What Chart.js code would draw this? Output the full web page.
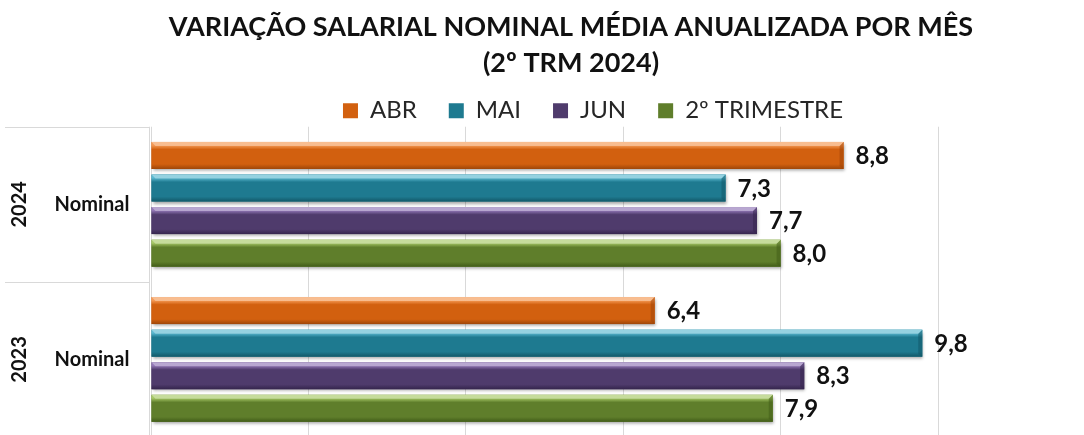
<!DOCTYPE html>
<html>
<head>
<meta charset="utf-8">
<script src="https://cdn.jsdelivr.net/npm/chart.js@4.4.1/dist/chart.umd.min.js"></script>
<style>
  html, body { margin: 0; padding: 0; background: #ffffff; overflow: hidden; }
  #wrap { position: relative; width: 1084px; height: 437px; }
</style>
</head>
<body>
<div id="wrap"><canvas id="c"></canvas></div>
<script>
// ---- data ----
const categories = ['2024', '2023'];
const subCategory = 'Nominal';
const seriesNames = ['ABR', 'MAI', 'JUN', '2º TRIMESTRE'];
const abr = [8.8, 6.4];
const mai = [7.3, 9.8];
const jun = [7.7, 8.3];
const trimestre = [8.0, 7.9];
const xTicks = [0, 2, 4, 6, 8, 10];
const titleLines = ['VARIAÇÃO SALARIAL NOMINAL MÉDIA ANUALIZADA POR MÊS', '(2º TRM 2024)'];

// ---- styles ----
const baseColors  = ['#D2600F', '#1E7A90', '#4F3B6C', '#5F7E2B'];
const lightColors = ['#F59A55', '#5CBAD2', '#9378B8', '#A8CA68'];
const darkColors  = ['#9E4609', '#125868', '#35254D', '#415C18'];
const FONT = 'Lato, Carlito, Calibri, sans-serif';
const gridColor = '#D9D9D9';

const seriesValues = [abr, mai, jun, trimestre];

function fmt(v) { return v.toFixed(1).replace('.', ','); }

const legendShiftPlugin = {
  id: 'legendShift',
  afterLayout(chart) {
    const lg = chart.legend;
    if (!lg) return;
    lg.top += 6; lg.bottom += 6;
    lg.left += 22; lg.right += 22;
  }
};

const shadowPlugin = {
  id: 'barShadow',
  beforeDatasetsDraw(chart) {
    const ctx = chart.ctx;
    ctx.save();
    ctx.shadowColor = 'rgba(0,0,0,0.35)';
    ctx.shadowBlur = 3;
    ctx.shadowOffsetX = 1;
    ctx.shadowOffsetY = 2;
  },
  afterDatasetsDraw(chart) {
    const ctx = chart.ctx;
    ctx.restore();
    chart.data.datasets.forEach((ds, di) => {
      const meta = chart.getDatasetMeta(di);
      meta.data.forEach((bar, i) => {
        const h = bar.height;
        const top = bar.y - h / 2;
        const left = Math.min(bar.base, bar.x);
        const right = Math.max(bar.base, bar.x);
        const g = ctx.createLinearGradient(0, top, 0, top + h);
        g.addColorStop(0, lightColors[di]);
        g.addColorStop(0.12, lightColors[di]);
        g.addColorStop(0.28, baseColors[di]);
        g.addColorStop(0.82, baseColors[di]);
        g.addColorStop(1, darkColors[di]);
        ctx.save();
        ctx.fillStyle = g;
        ctx.fillRect(left, top, right - left, h);
        ctx.fillStyle = darkColors[di];
        ctx.globalAlpha = 0.55;
        ctx.beginPath();
        ctx.moveTo(right - 4, top + 4);
        ctx.lineTo(right, top);
        ctx.lineTo(right, top + h);
        ctx.lineTo(right - 4, top + h - 3);
        ctx.closePath();
        ctx.fill();
        ctx.globalAlpha = 1;
        ctx.fillStyle = 'rgba(255,255,255,0.35)';
        ctx.beginPath();
        ctx.moveTo(left, top);
        ctx.lineTo(right, top);
        ctx.lineTo(right - 4, top + 4);
        ctx.lineTo(left + 4, top + 4);
        ctx.closePath();
        ctx.fill();
        ctx.restore();

        ctx.save();
        ctx.fillStyle = '#111111';
        ctx.font = 'bold 24px ' + FONT;
        ctx.textAlign = 'left';
        ctx.textBaseline = 'middle';
        ctx.fillText(fmt(ds.data[i]), right + 12, bar.y + 1);
        ctx.restore();
      });
    });
  }
};

const categoryAxisPlugin = {
  id: 'categoryAxis',
  afterDraw(chart) {
    const ctx = chart.ctx;
    const area = chart.chartArea;
    const y = chart.scales.y;
    ctx.save();
    ctx.strokeStyle = gridColor;
    ctx.lineWidth = 1;
    ctx.beginPath();
    ctx.moveTo(area.left - 1.5, area.top);
    ctx.lineTo(area.left - 1.5, area.bottom);
    ctx.stroke();
    const seps = [area.top];
    for (let i = 0; i < categories.length - 1; i++) {
      seps.push((y.getPixelForValue(i) + y.getPixelForValue(i + 1)) / 2);
    }
    seps.push(area.bottom);
    seps.forEach(sy => {
      ctx.beginPath();
      ctx.moveTo(5, Math.round(sy) + 0.5);
      ctx.lineTo(area.left - 1.5, Math.round(sy) + 0.5);
      ctx.stroke();
    });
    ctx.fillStyle = '#111111';
    categories.forEach((cat, i) => {
      const cy = y.getPixelForValue(i);
      ctx.font = 'bold 20px ' + FONT;
      ctx.textAlign = 'center';
      ctx.textBaseline = 'middle';
      ctx.fillText(subCategory, 92, cy);
      ctx.save();
      ctx.translate(20, cy);
      ctx.rotate(-Math.PI / 2);
      ctx.fillText(cat, 0, 0);
      ctx.restore();
    });
    ctx.restore();
  }
};

new Chart(document.getElementById('c'), {
  type: 'bar',
  data: {
    labels: categories,
    datasets: seriesValues.map((vals, i) => ({
      label: seriesNames[i],
      data: vals,
      backgroundColor: baseColors[i],
      borderWidth: 0,
      categoryPercentage: 0.84,
      barPercentage: 0.83
    }))
  },
  options: {
    indexAxis: 'y',
    responsive: true,
    maintainAspectRatio: false,
    animation: false,
    layout: { padding: { left: 58, right: 0, top: 0, bottom: 0 } },
    plugins: {
      title: {
        display: true,
        text: titleLines,
        color: '#111111',
        font: { family: FONT, size: 27, weight: 'bold', lineHeight: 1.31 },
        padding: { top: 10, bottom: -20 }
      },
      legend: {
        display: true,
        position: 'top',
        labels: {
          color: '#262626',
          font: { family: FONT, size: 24 },
          boxWidth: 15,
          boxHeight: 15,
          padding: 32
        }
      },
      tooltip: { enabled: false }
    },
    scales: {
      x: {
        min: 0,
        max: 10,
        afterBuildTicks(axis) { axis.ticks = xTicks.map(v => ({ value: v })); },
        ticks: { display: false },
        grid: { color: gridColor, drawTicks: false },
        border: { display: false }
      },
      y: {
        position: 'left',
        ticks: { display: false },
        grid: { display: false, drawTicks: false },
        border: { display: false },
        afterFit(axis) { axis.width = 93; }
      },
      yRight: {
        type: 'category',
        labels: categories,
        position: 'right',
        ticks: { display: false },
        grid: { display: false, drawTicks: false },
        border: { display: false },
        afterFit(axis) { axis.width = 146; }
      }
    }
  },
  plugins: [legendShiftPlugin, shadowPlugin, categoryAxisPlugin]
});
</script>
</body>
</html>
